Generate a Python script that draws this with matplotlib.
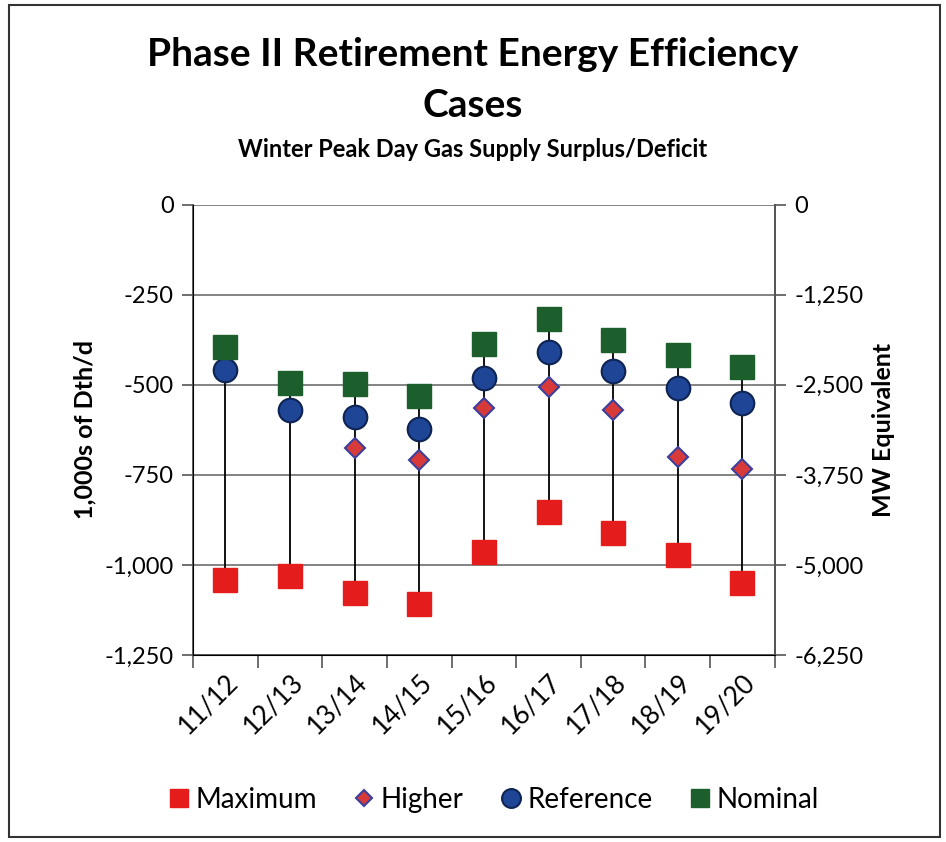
import matplotlib
matplotlib.use("Agg")
from matplotlib import pyplot as plt
from matplotlib.patches import Rectangle

# Data (1,000s of Dth/d)
seasons = ['11/12', '12/13', '13/14', '14/15', '15/16', '16/17', '17/18', '18/19', '19/20']
maximum = [-1043, -1031, -1077, -1108, -964, -854, -912, -971, -1051]
higher = [-460, -571, -675, -708, -564, -506, -570, -700, -734]
reference = [-460, -571, -589, -622, -480, -409, -462, -509, -551]
nominal = [-394, -496, -499, -530, -388, -318, -376, -417, -452]
left_ticks = [0, -250, -500, -750, -1000, -1250]
right_labels = ['0', '-1,250', '-2,500', '-3,750', '-5,000', '-6,250']

font = 'Lato'

fig = plt.figure(figsize=(9.46, 8.42), dpi=100)
ax = fig.add_axes([0.204, 0.222, 0.615, 0.535])

x = list(range(len(seasons)))

# high-low lines from maximum up to nominal
ax.vlines(x, maximum, nominal, color='black', linewidth=1.3, zorder=2)

ax.plot(x, maximum, 's', color='#e41c1c', markersize=17, linestyle='none',
        label='Maximum', zorder=3)
ax.plot(x, higher, 'D', color='#d83a3a', markeredgecolor='#3b3f9e', markeredgewidth=1.5,
        markersize=10, linestyle='none', label='Higher', zorder=4)
ax.plot(x, reference, 'o', color='#1f4596', markeredgecolor='#0e2452', markeredgewidth=1.5,
        markersize=17, linestyle='none', label='Reference', zorder=5)
ax.plot(x, nominal, 's', color='#1c5e2c', markersize=17, linestyle='none',
        label='Nominal', zorder=6)

ax.set_xlim(-0.5, len(seasons) - 0.5)
ax.set_ylim(-1250, 0)
ax.set_yticks(left_ticks)
ax.set_yticklabels(['{:,}'.format(v) for v in left_ticks], fontsize=17, family=font)
ax.yaxis.grid(True, color='#7a7a7a', linewidth=1.3)
ax.set_axisbelow(True)

# tick marks between categories, labels under categories
ax.set_xticks([i + 0.5 for i in range(-1, len(seasons))])
ax.set_xticklabels([])
ax.tick_params(axis='x', which='major', length=9, width=1.2, color='#555555')
ax.set_xticks(x, minor=True)
ax.set_xticklabels(seasons, minor=True, rotation=45, ha='right', rotation_mode='anchor',
                   fontsize=19, family=font)
ax.tick_params(axis='x', which='minor', length=0, pad=10)
ax.tick_params(axis='y', length=8, width=1.2, color='#555555', pad=6)

ax.spines['top'].set_visible(False)
for s in ['left', 'right', 'bottom']:
    ax.spines[s].set_color('#555555')
    ax.spines[s].set_linewidth(1.3)

ax.set_ylabel('1,000s of Dth/d', fontsize=18, fontweight='bold', family=font, labelpad=6)

ax2 = ax.twinx()
ax2.set_ylim(-6250, 0)
ax2.set_yticks([0, -1250, -2500, -3750, -5000, -6250])
ax2.set_yticklabels(right_labels, fontsize=17, family=font)
ax2.tick_params(axis='y', length=8, width=1.2, color='#555555', pad=6)
ax2.spines['top'].set_visible(False)
ax2.spines['right'].set_color('#555555')
ax2.spines['right'].set_linewidth(1.3)
ax2.set_ylabel('MW Equivalent', fontsize=18, fontweight='bold', family=font, labelpad=6)

fig.text(0.5, 0.935, 'Phase II Retirement Energy Efficiency', ha='center', va='center',
         fontsize=28, fontweight='bold', family=font)
fig.text(0.5, 0.875, 'Cases', ha='center', va='center',
         fontsize=28, fontweight='bold', family=font)
fig.text(0.5, 0.822, 'Winter Peak Day Gas Supply Surplus/Deficit', ha='center', va='center',
         fontsize=17, fontweight='bold', family=font)

handles, labels = ax.get_legend_handles_labels()
fig.legend(handles, labels, loc='center', bbox_to_anchor=(0.52, 0.05), ncol=4,
           frameon=False, prop={'family': font, 'size': 20}, handletextpad=0.1,
           columnspacing=1.2, markerscale=0.8, handlelength=1.0)

fig.patches.append(Rectangle((0.009, 0.006), 0.985, 0.988, transform=fig.transFigure,
                             fill=False, edgecolor='#333333', linewidth=1.5))

fig.savefig('out.png', dpi=100)
